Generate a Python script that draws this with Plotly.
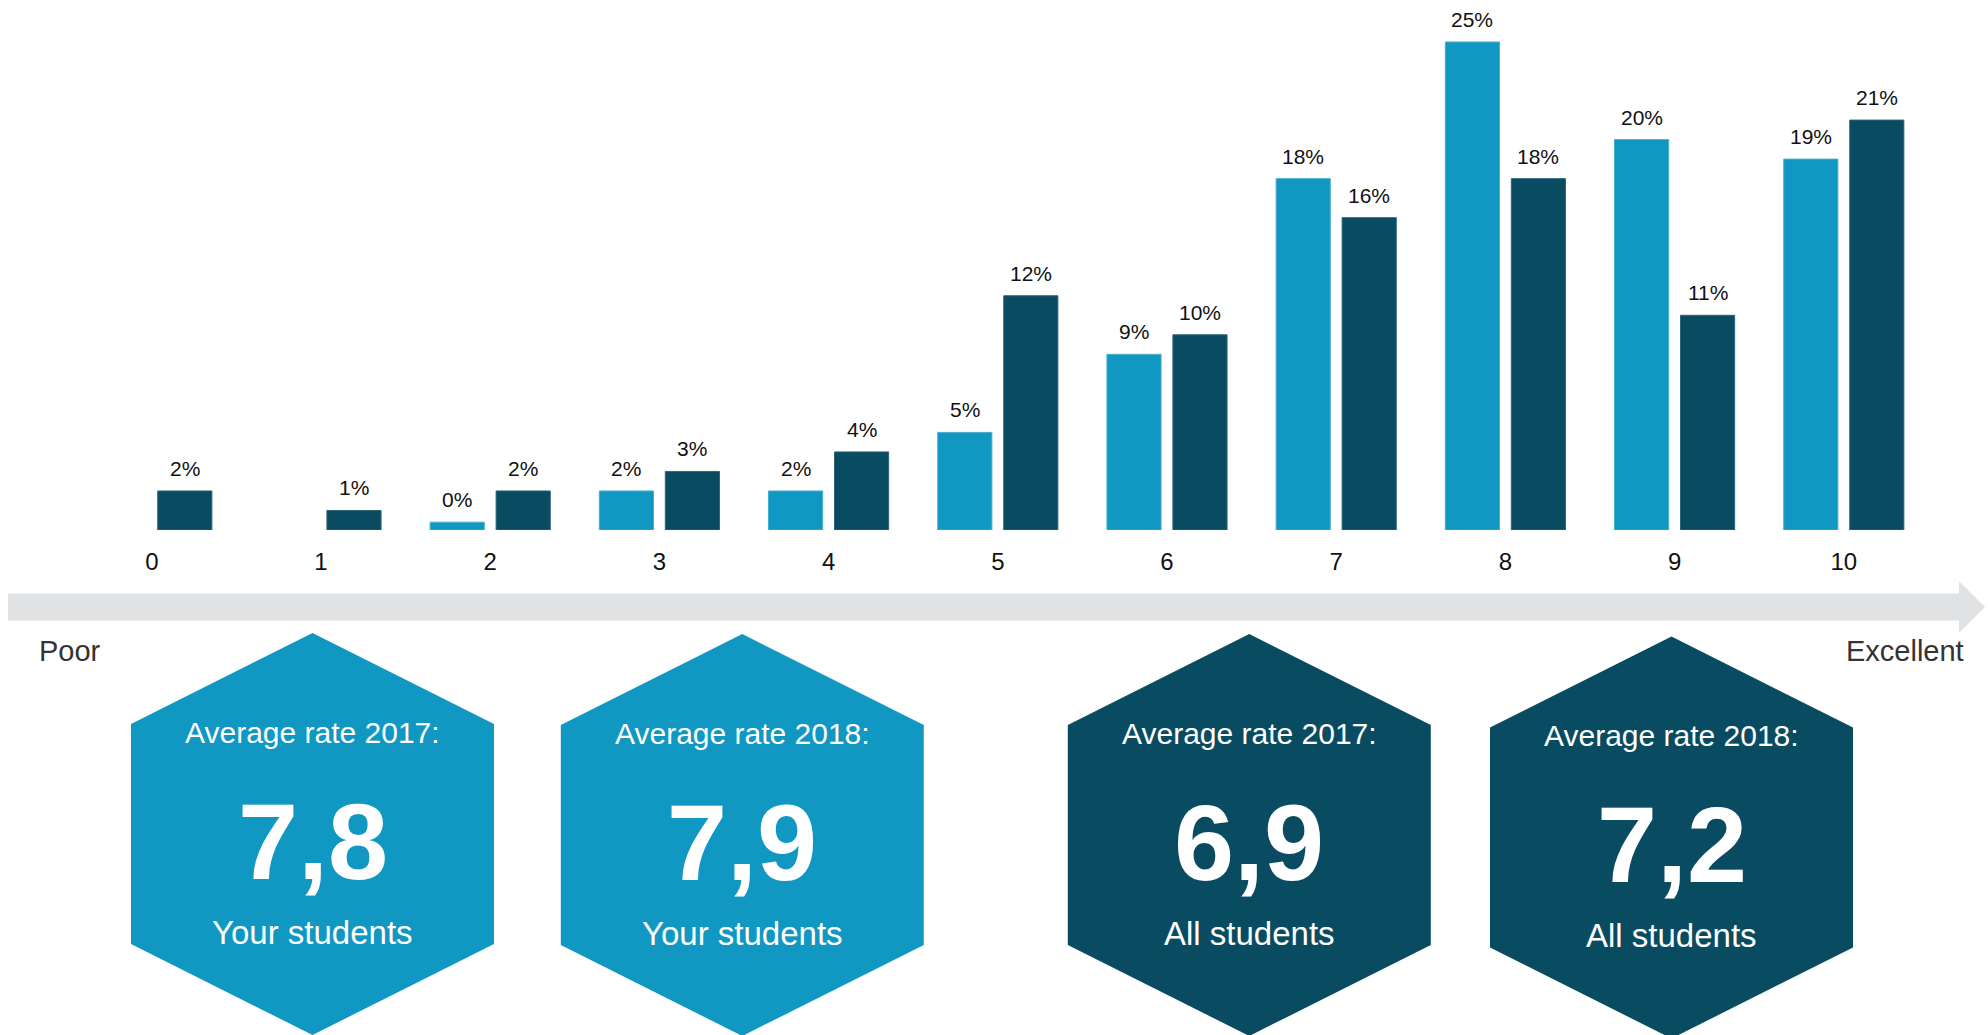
import plotly.graph_objects as go

# Rating scale and share of answers per rating (in %)
ratings = [0, 1, 2, 3, 4, 5, 6, 7, 8, 9, 10]
your_students = [None, None, 0.4, 2, 2, 5, 9, 18, 25, 20, 19]
all_students = [2, 1, 2, 3, 4, 12, 10, 16, 18, 11, 21]

# Average ratings shown in the badges
badge_titles = ["Average rate 2017:", "Average rate 2018:", "Average rate 2017:", "Average rate 2018:"]
badge_values = [7.8, 7.9, 6.9, 7.2]
badge_groups = ["Your students", "Your students", "All students", "All students"]

scale_low = "Poor"
scale_high = "Excellent"

LIGHT = "#1097C2"
DARK = "#094C61"
GREY = "#E1E2E4"
FONT = "Liberation Sans, Arial, sans-serif"

W, H = 1988, 1035
PLOT_H = 530  # plot area occupies the top part of the page


def px(x):
    return x / W


def py(y):
    return (PLOT_H - y) / PLOT_H


BAR_W = 0.32
OFF = 0.035

fig = go.Figure()
fig.add_trace(go.Bar(
    x=ratings, y=your_students, width=BAR_W, offset=-(BAR_W + OFF),
    marker=dict(color=LIGHT, line=dict(color="#45AED2", width=1)),
    name="Your students", hoverinfo="skip",
))
fig.add_trace(go.Bar(
    x=ratings, y=all_students, width=BAR_W, offset=OFF,
    marker=dict(color=DARK, line=dict(color="#2C6577", width=1)),
    name="All students", hoverinfo="skip",
))

annotations = []
# value labels above each bar
for series, shift in ((your_students, -(BAR_W / 2 + OFF)), (all_students, BAR_W / 2 + OFF)):
    for r, v in zip(ratings, series):
        if v is None:
            continue
        annotations.append(dict(
            x=r + shift, y=v, xref="x", yref="y", text=f"{round(v)}%",
            showarrow=False, xanchor="center", yanchor="bottom", yshift=9,
            font=dict(family=FONT, size=21, color="#111111"),
        ))

# scale arrow beneath the axis
shapes = [dict(
    type="path", xref="paper", yref="paper",
    path=(f"M {px(8)} {py(593.5)} L {px(1959)} {py(593.5)} L {px(1959)} {py(581)} "
          f"L {px(1985)} {py(607)} L {px(1959)} {py(633)} L {px(1959)} {py(620.5)} "
          f"L {px(8)} {py(620.5)} Z"),
    fillcolor=GREY, line=dict(width=0), layer="below",
)]

annotations.append(dict(x=px(37), y=py(651), xref="paper", yref="paper", text=scale_low,
                        showarrow=False, xanchor="left", yanchor="middle",
                        font=dict(family=FONT, size=29, color="#333333")))
annotations.append(dict(x=px(1966), y=py(651), xref="paper", yref="paper", text=scale_high,
                        showarrow=False, xanchor="right", yanchor="middle",
                        font=dict(family=FONT, size=29, color="#333333")))

# hexagonal badges with the average ratings
badge_cx = [312.5, 742.3, 1249.3, 1671.5]
badge_top = [633, 634, 634, 636.5]
badge_fill = [LIGHT, LIGHT, DARK, DARK]
HW = 181.5
for cx, ty, fill, title, val, grp in zip(badge_cx, badge_top, badge_fill,
                                          badge_titles, badge_values, badge_groups):
    pts = [(cx, ty), (cx + HW, ty + 91), (cx + HW, ty + 311), (cx, ty + 402),
           (cx - HW, ty + 311), (cx - HW, ty + 91)]
    path = "M " + " L ".join(f"{px(a)} {py(b)}" for a, b in pts) + " Z"
    shapes.append(dict(type="path", xref="paper", yref="paper", path=path,
                       fillcolor=fill, line=dict(width=0)))
    annotations.append(dict(x=px(cx), y=py(ty + 109 - 0.32 * 30), xref="paper", yref="paper",
                            text=title, showarrow=False, xanchor="center", yanchor="middle",
                            font=dict(family=FONT, size=30, color="white")))
    annotations.append(dict(x=px(cx), y=py(ty + 243 - 0.32 * 108), xref="paper", yref="paper",
                            text=f"{val:.1f}".replace(".", ","), showarrow=False,
                            xanchor="center", yanchor="middle",
                            font=dict(family=FONT, size=108, color="white", weight="bold")))
    annotations.append(dict(x=px(cx), y=py(ty + 310 - 0.32 * 33), xref="paper", yref="paper",
                            text=grp, showarrow=False, xanchor="center", yanchor="middle",
                            font=dict(family=FONT, size=33, color="white")))

x_unit = 169.2
x0 = -151.8 / x_unit
fig.update_layout(
    width=W, height=H,
    margin=dict(l=0, r=0, t=0, b=H - PLOT_H, pad=0),
    paper_bgcolor="white", plot_bgcolor="white",
    showlegend=False, barmode="overlay",
    xaxis=dict(range=[x0, x0 + W / x_unit], tickmode="array", tickvals=ratings,
               ticktext=[str(r) for r in ratings], showgrid=False, zeroline=False,
               showline=False, ticks="", ticklabelstandoff=15,
               tickfont=dict(family=FONT, size=24, color="#111111"), fixedrange=True),
    yaxis=dict(range=[0, PLOT_H / 19.52], visible=False, fixedrange=True),
    shapes=shapes, annotations=annotations,
)

fig.write_html("out.html")
